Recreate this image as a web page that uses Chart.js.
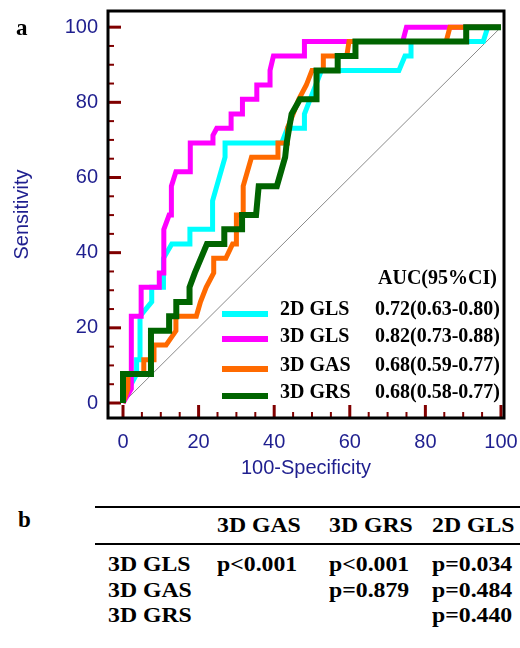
<!DOCTYPE html>
<html>
<head>
<meta charset="utf-8">
<script src="https://cdn.jsdelivr.net/npm/chart.js@4.4.1/dist/chart.umd.min.js"></script>
<style>
  body { margin: 0; background: #fff; width: 520px; height: 648px; overflow: hidden; position: relative; }
  #wrap { position: absolute; left: 0; top: 0; width: 520px; height: 490px; }
  .t { position: absolute; font: bold 22px "Liberation Serif", "Times New Roman", serif; line-height: 22px;
       white-space: nowrap; transform: scaleX(1.08); transform-origin: left top; color: #000; }
  .rule { position: absolute; left: 95px; width: 425px; height: 2px; background: #000; }
</style>
</head>
<body>
<div id="wrap"><canvas id="roc" width="520" height="490"></canvas></div>
<div id="panelB"></div>
<script>
// ROC curves: [100-specificity, sensitivity]
const gls2D = [[0,0],[1.5,3.8],[3.6,7.7],[3.6,11.5],[4.5,11.5],[4.5,23.1],[7.6,26.9],[7.6,30.8],[10.7,30.8],
  [10.7,38.5],[12.9,42.3],[17.7,42.3],[17.7,46.2],[23.7,46.2],[23.7,53.8],[27,65.4],[27,69.2],[42,69.2],
  [43.5,73.1],[48,73.1],[48,76.9],[49.5,80.8],[51,84.6],[52.5,88.5],[73,88.5],[74.6,92.3],[76.2,92.3],
  [76.2,96.2],[95.3,96.2],[96.5,100],[100,100]];
const gls3D = [[0,0],[2.2,3.8],[2.2,23.1],[4.8,23.1],[4.8,30.8],[9.6,30.8],[9.6,34.6],[10.8,34.6],[10.8,46.2],
  [12.2,50],[12.8,50],[12.8,57.7],[14,61.5],[17.8,61.5],[17.8,69.2],[23.8,69.2],[23.8,71.2],[24.8,73.1],
  [28.6,73.1],[28.6,76.9],[31.6,76.9],[31.6,80.8],[35.4,80.8],[35.4,84.6],[38.9,84.6],[38.9,88.5],
  [39.8,92.3],[48,92.3],[48,96.2],[74,96.2],[75,100],[100,100]];
const gas3D = [[0,0],[1.3,3.8],[1.3,7.7],[5.5,7.7],[5.5,11.5],[8.2,11.5],[8.2,15.4],[11.4,15.4],[14,19.2],
  [14,23.1],[19.4,23.1],[20.5,26.9],[22,30.8],[24,34.6],[24,38.5],[27.2,38.5],[29,42.3],[30,42.3],[30,50],
  [31.8,50],[31.8,57.7],[34,65.4],[41,65.4],[41,69.2],[43.5,69.2],[43.5,73.1],[45,76.9],[46.5,80.8],
  [48.5,84.6],[50,88.5],[53,88.5],[53,92.3],[59.2,92.3],[59.8,96.2],[85.5,96.2],[86.5,100],[100,100]];
const grs3D = [[0,0],[0,7.7],[7.4,7.7],[7.4,19.2],[12.2,19.2],[12.2,23.1],[14.1,23.1],[14.1,26.9],[17.6,26.9],
  [17.6,30.8],[19,34.6],[22.2,42.3],[26.8,42.3],[26.8,46.2],[31.5,46.2],[31.5,50],[35.2,50],[35.9,57.7],
  [40.7,57.7],[42.9,65.4],[43.3,69.2],[44.6,76.9],[46.8,80.8],[51.2,80.8],[51.2,88.5],[56.8,88.5],
  [56.8,92.3],[61.5,92.3],[61.5,96.2],[90.8,96.2],[90.8,100],[100,100]];
const reference = [[0,0],[100,100]];

const seriesNames = ["2D GLS", "3D GLS", "3D GAS", "3D GRS"];
const seriesColors = ["#00ffff", "#ff00ff", "#ff6a00", "#006400"];
const aucLabels = ["0.72(0.63-0.80)", "0.82(0.73-0.88)", "0.68(0.59-0.77)", "0.68(0.58-0.77)"];
const tickValues = [0, 20, 40, 60, 80, 100];
const minorTickValues = [0,5,10,15,20,25,30,35,40,45,50,55,60,65,70,75,80,85,90,95,100];

// Table of pairwise comparisons (panel b)
const tableCols = ["3D GAS", "3D GRS", "2D GLS"];
const tableRows = ["3D GLS", "3D GAS", "3D GRS"];
const pValues = [
  ["p<0.001", "p<0.001", "p=0.034"],
  ["", "p=0.879", "p=0.484"],
  ["", "", "p=0.440"],
];

const blue = "#1f1f8f";
const toPoints = (arr) => arr.map(([x, y]) => ({ x, y }));

const decorations = {
  id: "decorations",
  beforeDatasetsDraw(chart) {
    const { ctx, chartArea: a, scales: { x, y } } = chart;
    ctx.save();
    ctx.strokeStyle = "#800000";
    minorTickValues.forEach((v) => {
      const major = v % 20 === 0;
      const len = major ? 13 : 6;
      ctx.lineWidth = major ? 3 : 2;
      const px = x.getPixelForValue(v);
      ctx.beginPath();
      ctx.moveTo(px, a.bottom);
      ctx.lineTo(px, a.bottom - len);
      ctx.stroke();
      const py = y.getPixelForValue(v);
      ctx.beginPath();
      ctx.moveTo(a.left, py);
      ctx.lineTo(a.left + len, py);
      ctx.stroke();
    });
    ctx.restore();
  },
  afterDatasetsDraw(chart) {
    const { ctx, chartArea: a } = chart;
    ctx.save();
    // frame
    ctx.strokeStyle = "#000";
    ctx.lineWidth = 3;
    ctx.strokeRect(a.left, a.top, a.right - a.left, a.bottom - a.top);

    // legend with AUC values
    const lineY = [314, 339, 369, 396];
    const textY = [315, 342, 371, 398];
    ctx.font = 'bold 20px "Liberation Serif", serif';
    ctx.fillStyle = "#000";
    ctx.textBaseline = "alphabetic";
    ctx.textAlign = "left";
    ctx.fillText("AUC(95%CI)", 378, 284);
    seriesNames.forEach((name, i) => {
      ctx.strokeStyle = seriesColors[i];
      ctx.lineWidth = 6;
      ctx.beginPath();
      ctx.moveTo(222, lineY[i]);
      ctx.lineTo(268, lineY[i]);
      ctx.stroke();
      ctx.fillText(name, 280, textY[i]);
      ctx.fillText(aucLabels[i], 375, textY[i]);
    });

    // panel letter
    ctx.font = 'bold 23px "Liberation Serif", serif';
    ctx.fillText("a", 16, 35);
    ctx.restore();
  },
};

const makeLine = (data, color, order, width) => ({
  data: toPoints(data),
  borderColor: color,
  borderWidth: width,
  pointRadius: 0,
  tension: 0,
  fill: false,
  order,
  borderJoinStyle: "miter",
});

new Chart(document.getElementById("roc").getContext("2d"), {
  type: "line",
  data: {
    datasets: [
      { data: toPoints(reference), borderColor: "#8a8a8a", borderWidth: 1, pointRadius: 0, order: 5 },
      makeLine(gls2D, seriesColors[0], 4, 5),
      makeLine(gls3D, seriesColors[1], 3, 5),
      makeLine(gas3D, seriesColors[2], 2, 5),
      makeLine(grs3D, seriesColors[3], 1, 6),
    ],
  },
  options: {
    responsive: false,
    animation: false,
    layout: { padding: { top: 11, right: 16, left: 0, bottom: 0 } },
    plugins: { legend: { display: false }, tooltip: { enabled: false } },
    scales: {
      x: {
        type: "linear",
        min: -3.97,
        max: 100.8,
        afterBuildTicks: (s) => { s.ticks = tickValues.map((v) => ({ value: v })); },
        afterFit: (s) => { s.height = 72; s.paddingLeft = 0; s.paddingRight = 0; },
        grid: { display: false, drawTicks: false },
        border: { display: false },
        ticks: { color: blue, font: { family: '"Liberation Sans", Arial', size: 20 }, padding: 12, maxRotation: 0 },
        title: {
          display: true,
          text: "100-Specificity",
          color: blue,
          font: { family: '"Liberation Sans", Arial', size: 20 },
          padding: { top: 0, bottom: 10 },
        },
      },
      y: {
        type: "linear",
        min: -3.99,
        max: 104.3,
        afterBuildTicks: (s) => { s.ticks = tickValues.map((v) => ({ value: v })); },
        afterFit: (s) => { s.width = 108; s.paddingTop = 0; s.paddingBottom = 0; },
        grid: { display: false, drawTicks: false },
        border: { display: false },
        ticks: { color: blue, font: { family: '"Liberation Sans", Arial', size: 20 }, padding: 10 },
        title: {
          display: true,
          text: "Sensitivity",
          color: blue,
          font: { family: '"Liberation Sans", Arial', size: 20 },
          padding: { top: 10, bottom: 0 },
        },
      },
    },
  },
  plugins: [decorations],
});

// Panel b: comparison table as HTML text
const panel = document.getElementById("panelB");
const colX = [217, 329, 432];
const rowBaseline = [571, 597, 622];
const headBaseline = 532;
const asc = 18.4;
const addText = (text, x, baseline, extra) => {
  const d = document.createElement("div");
  d.className = "t";
  d.textContent = text;
  d.style.left = x + "px";
  d.style.top = (baseline - asc) + "px";
  if (extra) Object.assign(d.style, extra);
  panel.appendChild(d);
};
const addRule = (y) => {
  const r = document.createElement("div");
  r.className = "rule";
  r.style.top = y + "px";
  panel.appendChild(r);
};
addText("b", 18, 527, { transform: "none", fontSize: "23px" });
addRule(506);
addRule(543);
tableCols.forEach((c, j) => addText(c, colX[j], headBaseline));
tableRows.forEach((r, i) => {
  addText(r, 108, rowBaseline[i]);
  pValues[i].forEach((p, j) => { if (p) addText(p, colX[j], rowBaseline[i]); });
});
</script>
</body>
</html>
